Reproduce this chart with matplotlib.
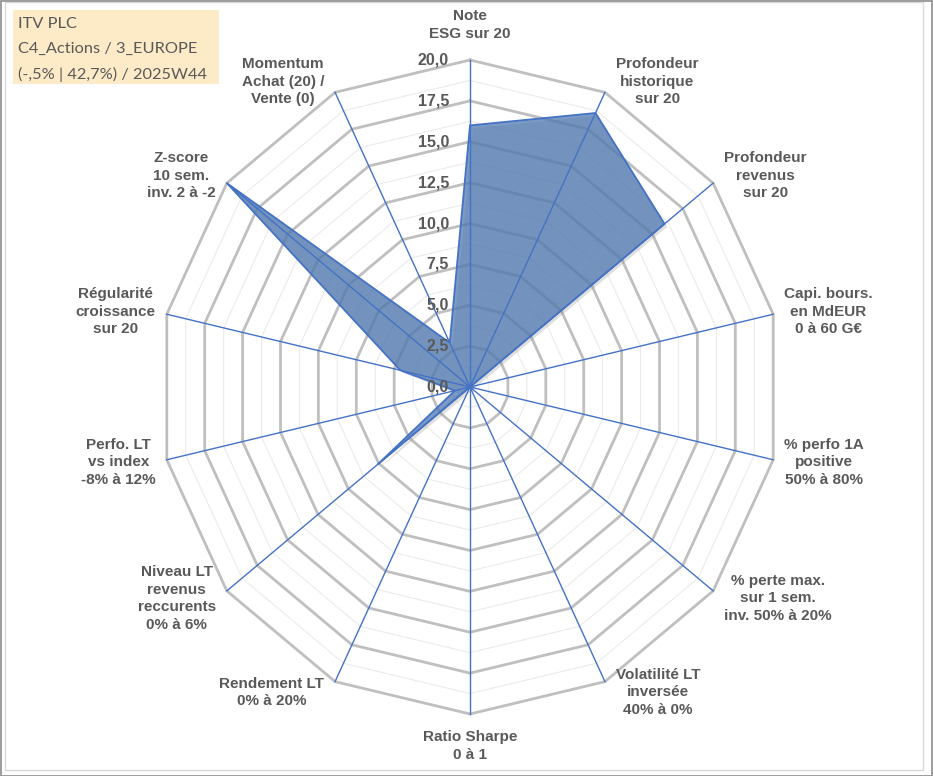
import numpy as np
import matplotlib
matplotlib.use("Agg")
import matplotlib.pyplot as plt
import matplotlib.patheffects as pe
from matplotlib.patches import Rectangle

# axes of the radar, clockwise from the top
categories = [
    "Note\nESG sur 20",
    "Profondeur\nhistorique\nsur 20",
    "Profondeur\nrevenus\nsur 20",
    "Capi. bours.\nen MdEUR\n0 à 60 G€",
    "% perfo 1A\npositive\n50% à 80%",
    "% perte max.\nsur 1 sem.\ninv. 50% à 20%",
    "Volatilité LT\ninversée\n40% à 0%",
    "Ratio Sharpe\n0 à 1",
    "Rendement LT\n0% à 20%",
    "Niveau LT\nrevenus\nreccurents\n0% à 6%",
    "Perfo. LT\nvs index\n-8% à 12%",
    "Régularité\ncroissance\nsur 20",
    "Z-score\n10 sem.\ninv. 2 à -2",
    "Momentum\nAchat (20) /\nVente (0)",
]
scores = [16.0, 18.6, 16.0, 0.0, 0.0, 0.0, 0.0, 0.0, 0.0, 7.6, 1.0, 4.6, 20.0, 3.0]
major_ticks = [0.0, 2.5, 5.0, 7.5, 10.0, 12.5, 15.0, 17.5, 20.0]
minor_ticks = [1.25, 3.75, 6.25, 8.75, 11.25, 13.75, 16.25, 18.75]
title_lines = ["ITV PLC", "C4_Actions / 3_EUROPE", "(-,5% | 42,7%) / 2025W44"]

W, H = 933, 776
CX, CY = 470, 387           # centre of the radar in pixels
SX, SY = 311 / 20, 327 / 20  # pixels per score unit

GREY_TXT = "#595959"
BLUE = "#4472C4"

n = len(categories)
theta = np.arange(n) * 2 * np.pi / n
ux, uy = np.sin(theta), np.cos(theta)

fig = plt.figure(figsize=(W / 100, H / 100), dpi=100)
ax = fig.add_axes([0, 0, 1, 1])
ax.set_xlim(-CX / SX, (W - CX) / SX)
ax.set_ylim(-(H - CY) / SY, CY / SY)
ax.axis("off")

# polygonal grid
for r in minor_ticks:
    ax.plot(np.append(r * ux, r * ux[0]), np.append(r * uy, r * uy[0]),
            color="#EBEBEB", lw=0.8, zorder=1)
for r in major_ticks[1:]:
    ax.plot(np.append(r * ux, r * ux[0]), np.append(r * uy, r * uy[0]),
            color="#BFBFBF", lw=2.0, zorder=2, solid_joinstyle="miter")

# series
vals = np.array(scores)
px, py = vals * ux, vals * uy
ax.fill(px, py, facecolor=(0.31, 0.48, 0.70, 0.75), edgecolor=BLUE, lw=1.3, zorder=3,
        path_effects=[pe.SimplePatchShadow(offset=(2, -2), shadow_rgbFace="#808080", alpha=0.25),
                      pe.Normal()])

# spokes
for i in range(n):
    ax.plot([0, 20 * ux[i]], [0, 20 * uy[i]], color=BLUE, lw=1.0, zorder=4)

# radial tick labels
for r in major_ticks:
    ax.annotate(f"{r:.1f}".replace(".", ","), xy=(0, r), xytext=(-21, 0),
                textcoords="offset pixels", ha="right", va="center",
                fontsize=11.5, fontweight="bold", color=GREY_TXT,
                family="Liberation Sans", zorder=5)

# category labels
for i, lab in enumerate(categories):
    s, c = ux[i], uy[i]
    if abs(s) < 0.1:
        ha = "center"
        va = "bottom" if c > 0 else "top"
        off = (0, 19 if c > 0 else -16)
    else:
        ha = "left" if s > 0 else "right"
        va = "center"
        off = (11 if s > 0 else -11, 12 * c)
    ax.annotate(lab, xy=(20 * s, 20 * c), xytext=off, textcoords="offset pixels",
                ha=ha, va=va, multialignment="center", linespacing=1.32,
                fontsize=11, fontweight="bold", color=GREY_TXT,
                family="Liberation Sans", zorder=5)

# info box, top left
fig.patches.append(Rectangle((13 / W, 1 - 84 / H), 206 / W, 74 / H,
                             transform=fig.transFigure, facecolor="#FDEBC8",
                             edgecolor="none", zorder=0))
for k, line in enumerate(title_lines):
    fig.text(18 / W, 1 - (24 + 25 * k) / H, line, ha="left", va="center",
             fontsize=11.8, color=GREY_TXT, family="Lato")

# chart frame
fig.patches.append(Rectangle((5 / W, 6 / H), 918 / W, 768 / H, transform=fig.transFigure,
                             facecolor="none", edgecolor="#D9D9D9", lw=1.0))
fig.patches.append(Rectangle((0.5 / W, 0.5 / H), 931.5 / W, 775 / H, transform=fig.transFigure,
                             facecolor="none", edgecolor="#8C8C8C", lw=1.2))

fig.savefig("out.png", dpi=100, facecolor="white")
